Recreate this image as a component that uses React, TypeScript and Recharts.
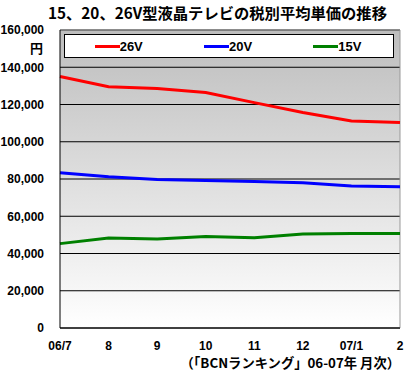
import React from "react";
import {
    LineChart,
    Line,
    XAxis,
    YAxis,
    CartesianGrid,
    ReferenceLine,
} from "recharts";

const months = ["06/7", "8", "9", "10", "11", "12", "07/1", "2"];
const tv26 = [135000, 129500, 128600, 126400, 121000, 115700, 111100, 110300];
const tv20 = [83300, 81200, 79700, 79200, 78700, 78000, 76300, 75800];
const tv15 = [45300, 48300, 47800, 49100, 48500, 50500, 50700, 50700];
const yTicks = [0, 20000, 40000, 60000, 80000, 100000, 120000, 140000, 160000];

const seriesInfo = [
    { key: "v26", name: "26V", color: "#ff0000" },
    { key: "v20", name: "20V", color: "#0000ff" },
    { key: "v15", name: "15V", color: "#008000" },
];

const JP_FONT = "'Noto Sans CJK JP', sans-serif";
const NUM_FONT = "'Liberation Sans', Arial, sans-serif";

const data = months.map((m, i) => ({
    month: m,
    v26: tv26[i],
    v20: tv20[i],
    v15: tv15[i],
}));

const tickStyle = { fill: "#000", fontSize: 12, fontWeight: 700, fontFamily: NUM_FONT };

// legend: white boxed strip sitting inside the top of the plot area
const LegendBox = () => (
    <div
        style={{
            position: "absolute",
            left: 64,
            top: 34,
            width: 330,
            height: 24,
            boxSizing: "border-box",
            border: "1px solid #000",
            background: "#fff",
            display: "flex",
            justifyContent: "space-around",
            alignItems: "center",
        }}
    >
        {seriesInfo.map((s) => (
            <div key={s.key} style={{ display: "flex", alignItems: "center", width: 50 }}>
                <div style={{ width: 25, height: 3, background: s.color }} />
                <span style={{ fontFamily: NUM_FONT, fontWeight: 700, fontSize: 13, color: "#000" }}>
                    {s.name}
                </span>
            </div>
        ))}
    </div>
);

export default function App() {
    return (
        <div
            style={{
                position: "absolute",
                left: 0,
                top: 0,
                width: 409,
                height: 373,
                background: "#fff",
                fontFamily: JP_FONT,
            }}
        >
            <div
                style={{
                    position: "absolute",
                    left: 48,
                    top: 2,
                    whiteSpace: "nowrap",
                    fontWeight: 700,
                    fontSize: 15.3,
                    lineHeight: "20px",
                }}
            >
                15、20、26V型液晶テレビの税別平均単価の推移
            </div>
            <div
                style={{
                    position: "absolute",
                    left: 30,
                    top: 39,
                    fontWeight: 700,
                    fontSize: 13,
                    lineHeight: "18px",
                }}
            >
                円
            </div>
            <LineChart
                width={409}
                height={373}
                data={data}
                margin={{ top: 30, right: 9, bottom: 0, left: 0 }}
            >
                <defs>
                    <linearGradient id="plotBg" x1="0" y1="0" x2="0" y2="1">
                        <stop offset="0%" stopColor="#bdbdbd" />
                        <stop offset="100%" stopColor="#ffffff" />
                    </linearGradient>
                </defs>
                <CartesianGrid
                    vertical={false}
                    stroke="#000"
                    strokeOpacity={1}
                    fill="url(#plotBg)"
                    fillOpacity={1}
                />
                <XAxis
                    dataKey="month"
                    height={45}
                    stroke="#000"
                    tickLine={false}
                    tickMargin={7}
                    interval={0}
                    tick={tickStyle}
                />
                <YAxis
                    width={60}
                    domain={[0, 160000]}
                    ticks={yTicks}
                    stroke="#000"
                    tickLine={false}
                    tickMargin={10}
                    interval={0}
                    tickFormatter={(v: number) => v.toLocaleString("en-US")}
                    tick={tickStyle}
                />
                <ReferenceLine y={160000} stroke="#999" />
                <ReferenceLine x="2" stroke="#999" />
                {seriesInfo.map((s) => (
                    <Line
                        key={s.key}
                        type="linear"
                        dataKey={s.key}
                        name={s.name}
                        stroke={s.color}
                        strokeWidth={3}
                        dot={false}
                        isAnimationActive={false}
                    />
                ))}
            </LineChart>
            <LegendBox />
            <div
                style={{
                    position: "absolute",
                    right: 9,
                    top: 354,
                    fontWeight: 700,
                    fontSize: 13.3,
                    lineHeight: "17px",
                    whiteSpace: "nowrap",
                }}
            >
                （「BCNランキング」06-07年 月次）
            </div>
        </div>
    );
}
